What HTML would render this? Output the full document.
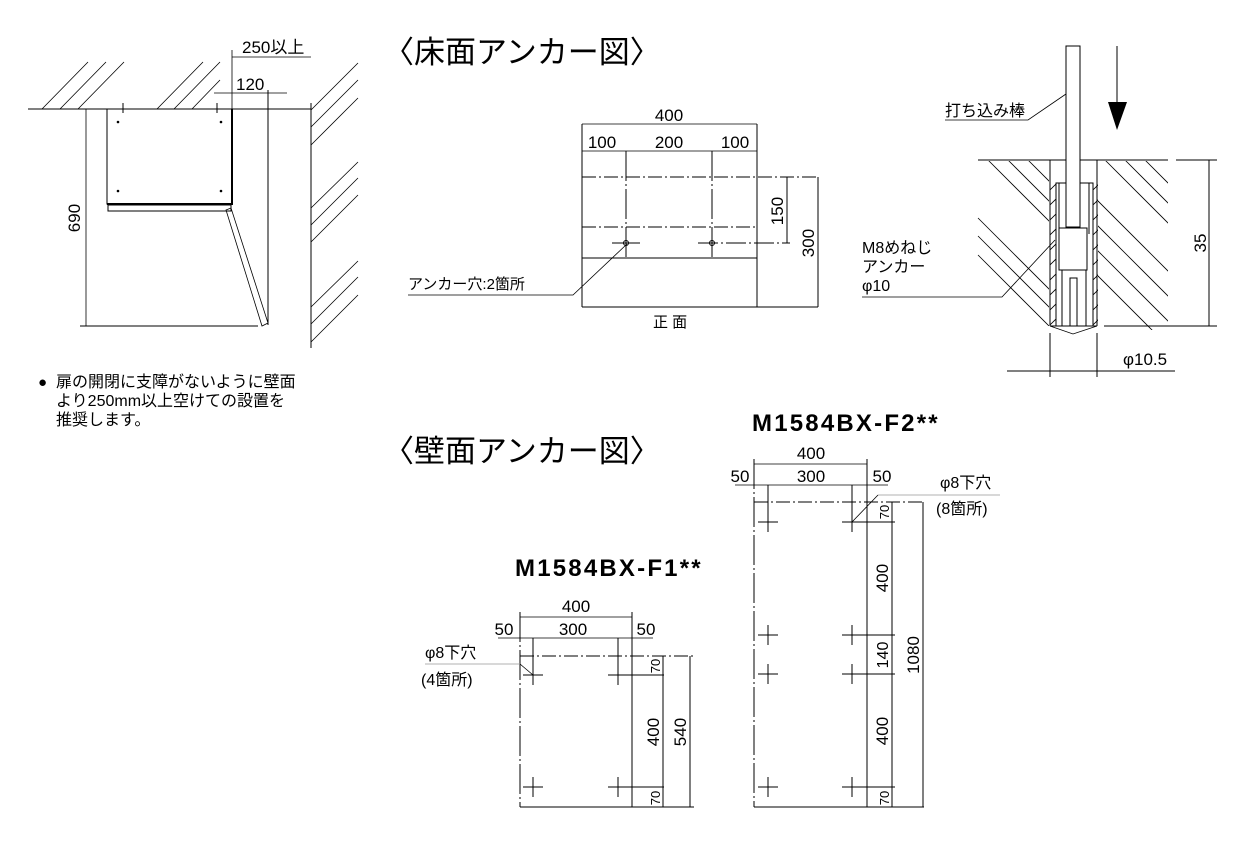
<!DOCTYPE html>
<html><head><meta charset="utf-8"><style>
body{margin:0;background:#fff;width:1241px;height:840px;overflow:hidden}
svg text{font-family:"Liberation Sans","Noto Sans CJK JP",sans-serif;fill:#000}
</style></head><body>
<svg width="1241" height="840" viewBox="0 0 1241 840" xmlns="http://www.w3.org/2000/svg">
<defs>
<clipPath id="cl"><polygon points="975,161 1049,161 1049,326 975,326"/></clipPath>
<clipPath id="cr"><polygon points="1098,161 1168,161 1168,330 1098,330"/></clipPath>
<clipPath id="sl"><rect x="1050" y="183" width="6" height="143"/></clipPath>
<clipPath id="sr"><rect x="1093" y="183" width="5" height="143"/></clipPath>
</defs>
<g stroke="#000" stroke-width="1" fill="none">
<line x1="28" y1="109" x2="311" y2="109"/>
<g stroke-width="0.8">
<line x1="42" y1="109" x2="88" y2="62"/><line x1="60" y1="109" x2="106" y2="62"/><line x1="78" y1="109" x2="124" y2="62"/>
<line x1="157" y1="109" x2="203" y2="62"/><line x1="174" y1="109" x2="220" y2="62"/><line x1="192" y1="109" x2="220" y2="80"/>
<line x1="311" y1="110" x2="358" y2="63"/><line x1="311" y1="127" x2="358" y2="80"/><line x1="311" y1="145" x2="358" y2="98"/>
<line x1="311" y1="208" x2="358" y2="162"/><line x1="311" y1="225" x2="358" y2="178"/><line x1="311" y1="242" x2="358" y2="195"/>
<line x1="311" y1="307" x2="358" y2="261"/><line x1="311" y1="324" x2="358" y2="277"/><line x1="311" y1="342" x2="358" y2="295"/>
</g>
<line x1="311" y1="103" x2="311" y2="348"/>
<rect x="107" y="109" width="125" height="95"/>
<line x1="232" y1="109" x2="232" y2="205" stroke-width="2"/>
<line x1="107" y1="204" x2="232" y2="204" stroke-width="2"/>
<rect x="108" y="205" width="123" height="6"/>
<line x1="123" y1="103" x2="123" y2="113"/><line x1="217" y1="103" x2="217" y2="113"/>
<polygon points="226,210 231,208 268,323 262,326" stroke-width="0.8"/>
<line x1="268" y1="90" x2="268" y2="325"/>
<line x1="86" y1="109" x2="86" y2="326" stroke-width="0.8"/>
<line x1="80" y1="326" x2="258" y2="326"/>
<line x1="232" y1="50" x2="232" y2="109" stroke-width="0.8"/>
<line x1="232" y1="57" x2="311" y2="57" stroke-width="0.8"/>
<line x1="214" y1="93" x2="287" y2="93" stroke-width="0.8"/>
</g>
<g fill="#000"><circle cx="118" cy="122" r="1.3"/><circle cx="221" cy="122" r="1.3"/><circle cx="118" cy="191" r="1.3"/><circle cx="221" cy="191" r="1.3"/></g>
<text x="242" y="53" font-size="17">250以上</text>
<text x="236" y="90" font-size="17">120</text>
<text transform="translate(80,218) rotate(-90)" font-size="17" text-anchor="middle">690</text>
<text x="38" y="387" font-size="15">●</text>
<text x="56" y="387" font-size="16">扉の開閉に支障がないように壁面</text>
<text x="56" y="406" font-size="16">より250mm以上空けての設置を</text>
<text x="56" y="425" font-size="16">推奨します。</text>

<text x="383" y="63" font-size="31">〈床面アンカー図〉</text>
<text x="383" y="462" font-size="31">〈壁面アンカー図〉</text>

<g stroke="#000" fill="none" stroke-width="1">
<line x1="582" y1="124" x2="757" y2="124" stroke-width="0.8"/>
<line x1="582" y1="151" x2="757" y2="151" stroke-width="0.8"/>
<line x1="582" y1="124" x2="582" y2="307"/>
<line x1="757" y1="124" x2="757" y2="307"/>
<line x1="582" y1="177" x2="818" y2="177" stroke-dasharray="14,3,2,3"/>
<line x1="582" y1="227" x2="757" y2="227" stroke-dasharray="14,3,2,3"/>
<line x1="582" y1="258" x2="757" y2="258"/>
<line x1="582" y1="307" x2="818" y2="307"/>
<line x1="626" y1="151" x2="626" y2="258" stroke-dasharray="30,3,2,3"/>
<line x1="712" y1="151" x2="712" y2="258" stroke-dasharray="30,3,2,3"/>
<line x1="612" y1="243" x2="640" y2="243"/>
<line x1="698" y1="243" x2="790" y2="243" stroke-dasharray="20,3,2,3"/>
<circle cx="626" cy="243" r="2.5"/><circle cx="712" cy="243" r="2.5"/>
<line x1="787" y1="177" x2="787" y2="243"/>
<line x1="818" y1="177" x2="818" y2="307"/>
<polyline points="627,244 573,295 408,295" stroke-width="0.8"/>
</g>
<text x="669" y="121" font-size="17" text-anchor="middle">400</text>
<text x="602" y="148" font-size="17" text-anchor="middle">100</text>
<text x="669" y="148" font-size="17" text-anchor="middle">200</text>
<text x="735" y="148" font-size="17" text-anchor="middle">100</text>
<text transform="translate(783,211) rotate(-90)" font-size="17" text-anchor="middle">150</text>
<text transform="translate(814,243) rotate(-90)" font-size="17" text-anchor="middle">300</text>
<text x="408" y="289" font-size="15">アンカー穴:2箇所</text>
<text x="653" y="327" font-size="15">正 面</text>

<g stroke="#000" fill="none" stroke-width="0.8">
<g clip-path="url(#cl)">
<line x1="988" y1="160" x2="1060" y2="232"/><line x1="1008" y1="160" x2="1060" y2="212"/><line x1="1028" y1="160" x2="1060" y2="192"/>
<line x1="978" y1="218" x2="1060" y2="300"/><line x1="978" y1="236" x2="1060" y2="318"/><line x1="978" y1="255" x2="1060" y2="337"/>
</g>
<g clip-path="url(#cr)">
<line x1="1105" y1="160" x2="1175" y2="230"/><line x1="1125" y1="160" x2="1175" y2="210"/><line x1="1145" y1="160" x2="1175" y2="190"/>
<line x1="1097" y1="200" x2="1175" y2="278"/><line x1="1097" y1="225" x2="1175" y2="303"/><line x1="1097" y1="250" x2="1175" y2="328"/><line x1="1097" y1="275" x2="1175" y2="353"/>
</g>
<g clip-path="url(#sl)"><line x1="1050" y1="190" x2="1060" y2="180"/><line x1="1050" y1="205" x2="1060" y2="195"/><line x1="1050" y1="220" x2="1060" y2="210"/><line x1="1050" y1="235" x2="1060" y2="225"/><line x1="1050" y1="250" x2="1060" y2="240"/><line x1="1050" y1="265" x2="1060" y2="255"/><line x1="1050" y1="280" x2="1060" y2="270"/><line x1="1050" y1="295" x2="1060" y2="285"/><line x1="1050" y1="310" x2="1060" y2="300"/><line x1="1050" y1="325" x2="1060" y2="315"/></g>
<g clip-path="url(#sr)"><line x1="1093" y1="190" x2="1103" y2="180"/><line x1="1093" y1="205" x2="1103" y2="195"/><line x1="1093" y1="220" x2="1103" y2="210"/><line x1="1093" y1="235" x2="1103" y2="225"/><line x1="1093" y1="250" x2="1103" y2="240"/><line x1="1093" y1="265" x2="1103" y2="255"/><line x1="1093" y1="280" x2="1103" y2="270"/><line x1="1093" y1="295" x2="1103" y2="285"/><line x1="1093" y1="310" x2="1103" y2="300"/><line x1="1093" y1="325" x2="1103" y2="315"/></g>
</g>
<g stroke="#000" fill="none" stroke-width="1">
<line x1="978" y1="160" x2="1168" y2="160"/>
<line x1="1176" y1="160" x2="1217" y2="160"/>
<line x1="1050" y1="160" x2="1050" y2="326"/>
<line x1="1097" y1="160" x2="1097" y2="326"/>
<line x1="1050" y1="333" x2="1050" y2="377"/>
<line x1="1097" y1="333" x2="1097" y2="377"/>
<polyline points="1056,326 1056,183 1093,183 1093,326"/>
<polyline points="1059,183 1059,234"/><polyline points="1089,183 1089,234"/>
<rect x="1066" y="46" width="14" height="181" fill="#fff"/>
<rect x="1059" y="228" width="28" height="42" fill="#fff"/>
<line x1="1062" y1="270" x2="1062" y2="326"/><line x1="1086" y1="270" x2="1086" y2="326"/>
<polyline points="1070,326 1070,278 1077,278 1077,326"/>
<line x1="1050" y1="326" x2="1097" y2="326"/>
<polyline points="1050,326 1073,334 1097,326" stroke-width="0.8"/>
<line x1="1104" y1="326" x2="1217" y2="326"/>
<line x1="1209" y1="160" x2="1209" y2="326"/>
<line x1="1007" y1="371" x2="1175" y2="371"/>
<line x1="1117" y1="46" x2="1117" y2="102"/>
<polyline points="945,120 1028,120 1066,94" stroke-width="0.8"/>
<polyline points="862,297 1002,297 1055,240" stroke-width="0.8"/>
</g>
<polygon points="1108,102 1127,102 1117,130" fill="#000"/>
<text x="945" y="116" font-size="16">打ち込み棒</text>
<text x="862" y="253" font-size="16">M8めねじ</text>
<text x="862" y="272" font-size="16">アンカー</text>
<text x="862" y="291" font-size="16">φ10</text>
<text x="1123" y="365" font-size="17">φ10.5</text>
<text transform="translate(1206,243) rotate(-90)" font-size="17" text-anchor="middle">35</text>

<text x="752" y="431" font-size="24" font-weight="bold" letter-spacing="2.2">M1584BX-F2**</text>
<text x="515" y="576" font-size="24" font-weight="bold" letter-spacing="2.2">M1584BX-F1**</text>

<g stroke="#000" fill="none" stroke-width="1">
<line x1="520" y1="617" x2="632" y2="617" stroke-width="0.8"/>
<line x1="498" y1="638" x2="653" y2="638" stroke-width="0.8"/>
<line x1="520" y1="656" x2="694" y2="656" stroke-dasharray="14,3,2,3"/>
<line x1="520" y1="612" x2="520" y2="807" stroke-dasharray="30,3,2,3"/>
<line x1="632" y1="612" x2="632" y2="807"/>
<line x1="520" y1="807" x2="694" y2="807"/>
<line x1="533" y1="638" x2="533" y2="685"/><line x1="618" y1="638" x2="618" y2="685"/>
<line x1="523" y1="675" x2="543" y2="675"/><line x1="608" y1="675" x2="664" y2="675"/>
<line x1="533" y1="777" x2="533" y2="797"/><line x1="618" y1="777" x2="618" y2="797"/>
<line x1="523" y1="787" x2="543" y2="787"/><line x1="608" y1="787" x2="664" y2="787"/>
<line x1="663" y1="656" x2="663" y2="807"/>
<line x1="690" y1="656" x2="690" y2="807"/>
<polyline points="425,664 520,664" stroke-width="0.8" stroke="#999"/>
<polyline points="520,664 533,675" stroke-width="0.8"/>
</g>
<text x="576" y="612" font-size="17" text-anchor="middle">400</text>
<text x="504" y="635" font-size="17" text-anchor="middle">50</text>
<text x="573" y="635" font-size="17" text-anchor="middle">300</text>
<text x="646" y="635" font-size="17" text-anchor="middle">50</text>
<text x="425" y="658" font-size="16">φ8下穴</text>
<text x="421" y="685" font-size="16">(4箇所)</text>
<text transform="translate(660,666) rotate(-90)" font-size="13" text-anchor="middle">70</text>
<text transform="translate(659,732) rotate(-90)" font-size="17" text-anchor="middle">400</text>
<text transform="translate(660,798) rotate(-90)" font-size="13" text-anchor="middle">70</text>
<text transform="translate(686,732) rotate(-90)" font-size="17" text-anchor="middle">540</text>

<g stroke="#000" fill="none" stroke-width="1">
<line x1="754" y1="464" x2="867" y2="464" stroke-width="0.8"/>
<line x1="735" y1="485" x2="888" y2="485" stroke-width="0.8"/>
<line x1="754" y1="502" x2="924" y2="502" stroke-dasharray="14,3,2,3"/>
<line x1="754" y1="459" x2="754" y2="807" stroke-dasharray="30,3,2,3"/>
<line x1="867" y1="459" x2="867" y2="807"/>
<line x1="754" y1="807" x2="924" y2="807"/>
<line x1="768" y1="485" x2="768" y2="532"/><line x1="852" y1="485" x2="852" y2="532"/>
<line x1="758" y1="522" x2="778" y2="522"/><line x1="842" y1="522" x2="895" y2="522"/>
<line x1="768" y1="625" x2="768" y2="645"/><line x1="852" y1="625" x2="852" y2="645"/>
<line x1="758" y1="635" x2="778" y2="635"/><line x1="842" y1="635" x2="895" y2="635"/>
<line x1="768" y1="664" x2="768" y2="684"/><line x1="852" y1="664" x2="852" y2="684"/>
<line x1="758" y1="674" x2="778" y2="674"/><line x1="842" y1="674" x2="895" y2="674"/>
<line x1="768" y1="777" x2="768" y2="797"/><line x1="852" y1="777" x2="852" y2="797"/>
<line x1="758" y1="787" x2="778" y2="787"/><line x1="842" y1="787" x2="895" y2="787"/>
<line x1="892" y1="502" x2="892" y2="807"/>
<line x1="923" y1="502" x2="923" y2="807"/>
<polyline points="1000,495 878,495" stroke-width="0.8" stroke="#999"/>
<polyline points="878,495 852,522" stroke-width="0.8"/>
</g>
<text x="811" y="459" font-size="17" text-anchor="middle">400</text>
<text x="740" y="482" font-size="17" text-anchor="middle">50</text>
<text x="811" y="482" font-size="17" text-anchor="middle">300</text>
<text x="882" y="482" font-size="17" text-anchor="middle">50</text>
<text x="940" y="488" font-size="16">φ8下穴</text>
<text x="936" y="514" font-size="16">(8箇所)</text>
<text transform="translate(889,512) rotate(-90)" font-size="13" text-anchor="middle">70</text>
<text transform="translate(888,578) rotate(-90)" font-size="17" text-anchor="middle">400</text>
<text transform="translate(888,655) rotate(-90)" font-size="16" text-anchor="middle">140</text>
<text transform="translate(888,731) rotate(-90)" font-size="17" text-anchor="middle">400</text>
<text transform="translate(889,798) rotate(-90)" font-size="13" text-anchor="middle">70</text>
<text transform="translate(919,655) rotate(-90)" font-size="17" text-anchor="middle">1080</text>
</svg>
</body></html>
